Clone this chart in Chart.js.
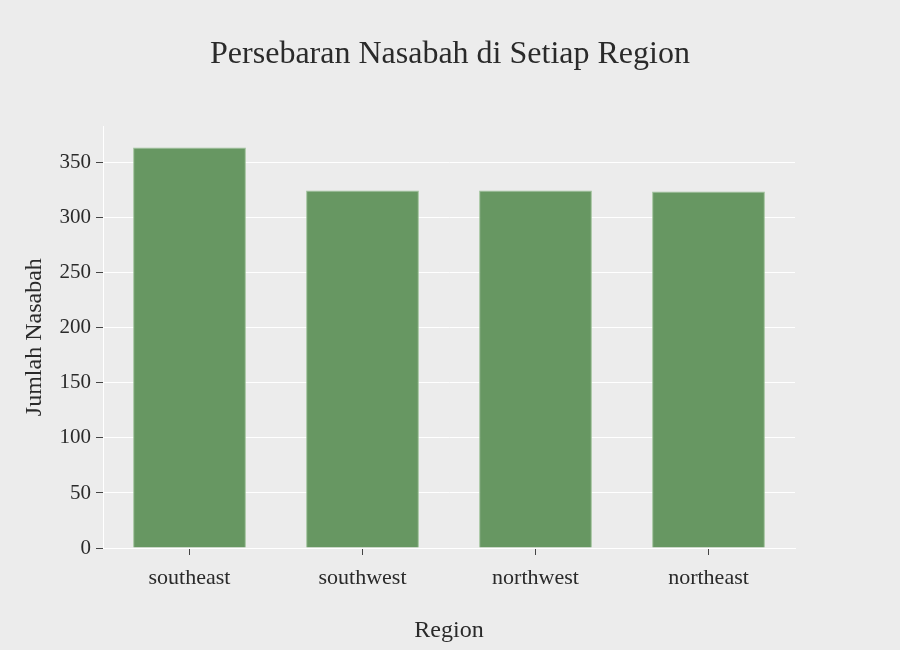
<!DOCTYPE html>
<html>
<head>
<meta charset="utf-8">
<script src="https://cdn.jsdelivr.net/npm/chart.js@4/dist/chart.umd.min.js"></script>
<style>
  html, body { margin: 0; padding: 0; background: #ececec; }
  #wrap { width: 900px; height: 650px; }
</style>
</head>
<body>
<div id="wrap"><canvas id="c" width="900" height="650"></canvas></div>
<script>
const categories = ["southeast", "southwest", "northwest", "northeast"];
const counts = [364, 325, 325, 324];
const chartTitle = "Persebaran Nasabah di Setiap Region";
const xTitle = "Region";
const yTitle = "Jumlah Nasabah";
const yMax = 383.2;
const yStep = 50;

const serif = "'Liberation Serif', 'Times New Roman', serif";

new Chart(document.getElementById('c'), {
  type: 'bar',
  data: {
    labels: categories,
    datasets: [{
      data: counts,
      backgroundColor: 'rgb(103,151,98)',
      borderColor: 'rgba(150,190,145,0.9)',
      borderWidth: 1,
      categoryPercentage: 1,
      barPercentage: 0.652,
      yAxisID: 'y'
    }]
  },
  options: {
    responsive: false,
    animation: false,
    devicePixelRatio: 1,
    layout: { padding: 0 },
    plugins: {
      legend: { display: false },
      tooltip: { enabled: false },
      title: {
        display: true,
        text: chartTitle,
        color: '#2a2a2a',
        font: { family: serif, size: 32, weight: 'normal' },
        padding: { top: 35, bottom: 53 }
      }
    },
    scales: {
      x: {
        afterFit: s => { s.height = 102; },
        grid: {
          offset: false,
          drawOnChartArea: false,
          drawTicks: true,
          tickLength: 7,
          tickColor: '#444',
          tickWidth: 1
        },
        border: { display: true, color: '#ffffff', width: 1 },
        ticks: {
          color: '#2a2a2a',
          padding: 10,
          font: { family: serif, size: 22 }
        },
        title: {
          display: true,
          text: xTitle,
          color: '#2a2a2a',
          font: { family: serif, size: 24 },
          padding: { top: 0, bottom: 5 }
        }
      },
      y: {
        min: 0,
        max: yMax,
        afterFit: s => { s.width = 103; },
        grid: {
          color: '#ffffff',
          lineWidth: 1,
          drawTicks: true,
          tickLength: 7,
          tickColor: '#444',
          tickWidth: 1
        },
        border: { display: true, color: '#ffffff', width: 1 },
        ticks: {
          stepSize: yStep,
          includeBounds: false,
          color: '#2a2a2a',
          padding: 5,
          font: { family: serif, size: 21 }
        },
        title: {
          display: true,
          text: yTitle,
          color: '#2a2a2a',
          font: { family: serif, size: 24 },
          padding: { top: 20, bottom: 0 }
        }
      },
      yRight: {
        position: 'right',
        min: 0,
        max: yMax,
        afterFit: s => { s.width = 105; },
        grid: { display: false, drawOnChartArea: false, drawTicks: false },
        border: { display: false },
        ticks: { display: false },
        title: { display: false }
      }
    }
  }
});
</script>
</body>
</html>
